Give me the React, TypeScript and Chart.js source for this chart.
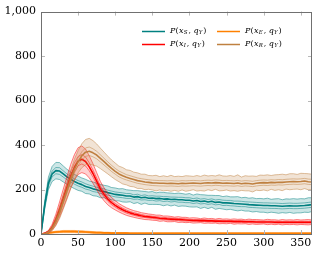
import { useEffect, useRef } from 'react';
import { Chart, registerables } from 'chart.js';

Chart.register(...registerables);

const days = [
  0, 5, 10, 15, 20, 25, 30, 35, 40, 45,
  50, 55, 60, 65, 70, 75, 80, 85, 90, 95,
  100, 105, 110, 115, 120, 125, 130, 135, 140, 145,
  150, 155, 160, 165, 170, 175, 180, 185, 190, 195,
  200, 205, 210, 215, 220, 225, 230, 235, 240, 245,
  250, 255, 260, 265, 270, 275, 280, 285, 290, 295,
  300, 305, 310, 315, 320, 325, 330, 335, 340, 345,
  350, 355, 360, 365,
];

const xTicks = [0, 50, 100, 150, 200, 250, 300, 350];
const yTicks = [0, 200, 400, 600, 800, 1000];

// S series
const sMean = [
  0, 130, 228, 270, 285, 283, 270, 257, 246, 236,
  228, 222, 214, 209, 203, 199, 193, 191, 186, 182,
  178, 176, 174, 171, 171, 166, 168, 163, 165, 161,
  162, 159, 160, 157, 158, 155, 156, 154, 154, 152,
  152, 148, 151, 146, 148, 144, 147, 142, 144, 140,
  140, 139, 137, 136, 135, 134, 132, 131, 130, 129,
  128, 128, 127, 127, 126, 125, 126, 127, 126, 126,
  127, 128, 130, 132,
];
const sOuter = [
  0, 18, 28, 34, 37, 38, 36, 34, 33, 32,
  32, 30, 32, 29, 31, 29, 30, 28, 30, 27,
  29, 27, 30, 28, 26, 29, 27, 30, 26, 28,
  29, 26, 28, 30, 27, 29, 26, 30, 28, 27,
  30, 27, 29, 31, 28, 30, 27, 31, 29, 28,
  31, 28, 30, 32, 28, 31, 29, 32, 29, 31,
  30, 33, 29, 31, 33, 29, 32, 30, 33, 31,
  32, 30, 33, 31,
];
const sInner = [
  0, 7, 11, 13, 14, 15, 14, 13, 13, 12,
  12, 12, 12, 11, 12, 11, 11, 12, 11, 11,
  11, 11, 11, 11, 11, 10, 11, 10, 11, 10,
  10, 11, 10, 11, 10, 11, 10, 11, 11, 11,
  11, 11, 11, 11, 11, 11, 11, 11, 11, 12,
  11, 12, 11, 12, 12, 11, 12, 12, 12, 12,
  12, 12, 12, 12, 12, 12, 12, 12, 12, 12,
  12, 12, 12, 12,
];

// E series
const eMean = [
  0, 2, 5, 7, 9, 10, 11, 11, 11, 11,
  10, 10, 9, 8, 7, 6, 6, 5, 5, 4,
  4, 4, 4, 4, 3, 3, 3, 3, 3, 3,
  3, 3, 3, 3, 3, 3, 3, 3, 3, 3,
  3, 3, 3, 3, 3, 3, 3, 3, 3, 3,
  3, 3, 3, 3, 3, 3, 3, 3, 3, 3,
  3, 3, 3, 3, 3, 3, 3, 3, 3, 3,
  3, 3, 3, 3,
];
const eOuter = [
  0, 1, 2, 3, 4, 4, 5, 5, 5, 5,
  5, 5, 4, 4, 4, 3, 3, 3, 3, 3,
  2, 2, 2, 2, 2, 2, 2, 2, 2, 2,
  2, 2, 2, 2, 2, 2, 2, 2, 2, 2,
  2, 2, 2, 2, 2, 2, 2, 2, 2, 2,
  2, 2, 2, 2, 2, 2, 2, 2, 2, 2,
  2, 2, 2, 2, 2, 2, 2, 2, 2, 2,
  2, 2, 2, 2,
];
const eInner = [
  0, 0.5, 1, 1.5, 2, 2, 2, 2, 2, 2,
  2, 2, 2, 2, 2, 1.5, 1.5, 1.5, 1, 1,
  1, 1, 1, 1, 1, 1, 1, 1, 1, 1,
  1, 1, 1, 1, 1, 1, 1, 1, 1, 1,
  1, 1, 1, 1, 1, 1, 1, 1, 1, 1,
  1, 1, 1, 1, 1, 1, 1, 1, 1, 1,
  1, 1, 1, 1, 1, 1, 1, 1, 1, 1,
  1, 1, 1, 1,
];

// I series
const iMean = [
  0, 3, 10, 30, 65, 110, 160, 210, 260, 300,
  328, 336, 326, 302, 272, 238, 203, 178, 157, 141,
  129, 118, 109, 101, 95, 90, 86, 82, 79, 77,
  75, 73, 71, 70, 68, 67, 66, 65, 64, 63,
  62, 61, 61, 60, 60, 59, 59, 58, 58, 57,
  57, 57, 56, 56, 56, 55, 55, 55, 54, 54,
  54, 54, 54, 53, 53, 53, 53, 53, 53, 53,
  53, 53, 53, 53,
];
const iOuter = [
  0, 2, 6, 14, 24, 34, 42, 48, 53, 57,
  60, 60, 56, 50, 44, 38, 33, 29, 26, 23,
  21, 19, 18, 17, 16, 15, 15, 14, 14, 13,
  13, 12, 14, 11, 13, 12, 10, 13, 11, 12,
  10, 12, 11, 9, 12, 10, 11, 9, 12, 10,
  11, 9, 12, 10, 11, 9, 12, 10, 11, 10,
  9, 12, 10, 11, 9, 12, 10, 11, 10, 12,
  10, 11, 12, 10,
];
const iInner = [
  0, 1, 2, 5, 9, 12, 15, 17, 19, 20,
  21, 21, 20, 18, 16, 14, 12, 11, 10, 9,
  8, 8, 7, 7, 6, 6, 6, 6, 5, 5,
  5, 5, 5, 5, 5, 5, 5, 5, 5, 5,
  4, 4, 4, 4, 4, 4, 4, 4, 4, 4,
  4, 4, 4, 4, 4, 4, 4, 4, 4, 4,
  4, 4, 4, 4, 4, 4, 4, 4, 4, 4,
  4, 4, 4, 4,
];

// R series
const rMean = [
  0, 1, 8, 25, 55, 95, 145, 195, 245, 290,
  325, 352, 368, 372, 365, 355, 340, 325, 310, 295,
  282, 270, 262, 255, 250, 245, 240, 237, 234, 232,
  230, 229, 228, 228, 227, 228, 227, 226, 228, 227,
  228, 229, 228, 227, 229, 230, 229, 231, 230, 228,
  229, 228, 227, 229, 226, 228, 227, 225, 228, 230,
  231, 230, 232, 231, 233, 232, 234, 235, 236, 235,
  236, 238, 235, 234,
];
const rOuter = [
  0, 1, 4, 10, 18, 26, 33, 38, 42, 46,
  50, 54, 57, 58, 55, 50, 46, 43, 40, 38,
  37, 35, 37, 34, 36, 33, 35, 32, 35, 31,
  32, 35, 30, 34, 31, 36, 31, 34, 30, 35,
  33, 30, 35, 32, 36, 31, 34, 30, 36, 33,
  31, 35, 32, 37, 30, 34, 33, 36, 31, 35,
  33, 36, 31, 35, 34, 37, 32, 36, 35, 33,
  37, 34, 36, 35,
];
const rInner = [
  0, 0, 2, 4, 7, 10, 12, 14, 15, 16,
  17, 18, 19, 19, 18, 17, 16, 15, 14, 14,
  13, 13, 13, 12, 12, 12, 12, 12, 12, 12,
  12, 12, 12, 12, 12, 12, 12, 12, 12, 12,
  12, 12, 12, 12, 12, 12, 12, 12, 12, 12,
  12, 12, 12, 12, 12, 12, 12, 12, 12, 12,
  12, 12, 12, 12, 12, 12, 12, 12, 12, 12,
  12, 12, 12, 12,
];

const seriesNames = ['S', 'E', 'I', 'R'];
const seriesColors = ['rgb(0,128,128)', 'rgb(255,128,0)', 'rgb(255,0,0)', 'rgb(191,128,64)'];
const seriesFills = ['rgba(0,128,128,0.2)', 'rgba(255,128,0,0.2)', 'rgba(255,0,0,0.18)', 'rgba(191,128,64,0.22)'];
const seriesMeans = [sMean, eMean, iMean, rMean];
const seriesOuters = [sOuter, eOuter, iOuter, rOuter];
const seriesInners = [sInner, eInner, iInner, rInner];

const SERIF = '"DejaVu Serif", serif';

function pts(vals: number[]) {
  return days.map((d, i) => ({ x: d, y: vals[i] }));
}

function drawLabel(ctx: CanvasRenderingContext2D, x: number, y: number, sub: string) {
  const parts: [string, string, number, number][] = [
    ['P', `italic 8px ${SERIF}`, 0, 0],
    ['(', `8px ${SERIF}`, 0, 0.5],
    ['x', `italic 8px ${SERIF}`, 0, 0.3],
    [sub, `italic 5.5px ${SERIF}`, 2, 0.8],
    [',', `8px ${SERIF}`, 0, 2.5],
    ['q', `italic 8px ${SERIF}`, 0, 0.3],
    ['Y', `italic 5.5px ${SERIF}`, 2, 0.8],
    [')', `8px ${SERIF}`, 0, 0],
  ];
  let cx = x;
  ctx.fillStyle = '#000';
  ctx.textBaseline = 'middle';
  ctx.textAlign = 'left';
  for (const [t, f, dy, gap] of parts) {
    ctx.font = f;
    ctx.fillText(t, cx, y + dy);
    cx += ctx.measureText(t).width + gap;
  }
}

const framePlugin = {
  id: 'frameLegend',
  afterDraw(chart: any) {
    const { ctx, chartArea, scales } = chart;
    const { left, right, top, bottom } = chartArea;
    const xs = scales.x;
    const ys = scales.y;
    ctx.save();
    ctx.strokeStyle = '#b8b8b8';
    ctx.lineWidth = 1;
    ctx.beginPath();
    for (const v of xTicks) {
      const px = Math.round(xs.getPixelForValue(v)) + 0.5;
      if (v === 0) continue;
      ctx.moveTo(px, bottom);
      ctx.lineTo(px, bottom - 4);
      ctx.moveTo(px, top);
      ctx.lineTo(px, top + 4);
    }
    for (const v of yTicks) {
      if (v === 0 || v === 1000) continue;
      const py = Math.round(ys.getPixelForValue(v)) + 0.5;
      ctx.moveTo(left, py);
      ctx.lineTo(left + 4, py);
      ctx.moveTo(right, py);
      ctx.lineTo(right - 4, py);
    }
    ctx.stroke();
    ctx.strokeStyle = '#707070';
    ctx.lineWidth = 1;
    ctx.strokeRect(Math.round(left) + 0.5, Math.round(top) + 0.5, Math.round(right - left) - 1, Math.round(bottom - top));

    // legend
    const cols = [142, 217];
    const rows = [31, 44];
    [0, 1, 2, 3].forEach((k, idx) => {
      const cx = cols[idx % 2];
      const cy = rows[Math.floor(idx / 2)];
      ctx.strokeStyle = seriesColors[k];
      ctx.lineWidth = 1.5;
      ctx.beginPath();
      ctx.moveTo(cx, cy + 0.5);
      ctx.lineTo(cx + 23, cy + 0.5);
      ctx.stroke();
      drawLabel(ctx, cx + 28, cy, seriesNames[k]);
    });
    ctx.restore();
  },
};

export default function App() {
  const ref = useRef<HTMLCanvasElement | null>(null);
  useEffect(() => {
    if (!ref.current) return;
    const datasets: any[] = [];
    seriesNames.forEach((_, k) => {
      const m = seriesMeans[k];
      const o = seriesOuters[k];
      const inn = seriesInners[k];
      const c = seriesColors[k];
      const base = { borderColor: c, pointRadius: 0, tension: 0, borderJoinStyle: 'round' };
      datasets.push({ ...base, data: pts(m.map((v, i) => v + o[i])), borderWidth: 0.5, fill: '+1', backgroundColor: seriesFills[k] });
      datasets.push({ ...base, data: pts(m.map((v, i) => Math.max(0, v - o[i]))), borderWidth: 0.5, fill: false });
      datasets.push({ ...base, data: pts(m.map((v, i) => v + inn[i])), borderWidth: 0.5, fill: false });
      datasets.push({ ...base, data: pts(m.map((v, i) => Math.max(0, v - inn[i]))), borderWidth: 0.5, fill: false });
      datasets.push({ ...base, data: pts(m), borderWidth: 1.6, fill: false });
    });
    datasets.forEach((d, i) => { d.order = datasets.length - i; });
    const chart = new Chart(ref.current, {
      type: 'line',
      data: { datasets },
      options: {
        responsive: false,
        animation: false,
        devicePixelRatio: 1,
        layout: { padding: { top: 11, right: 3, left: 0, bottom: 0 } },
        plugins: { legend: { display: false }, tooltip: { enabled: false } },
        scales: {
          x: {
            type: 'linear',
            min: 0,
            max: 365,
            border: { display: false },
            grid: { display: false, drawTicks: false },
            afterBuildTicks: (s: any) => { s.ticks = xTicks.map((v) => ({ value: v })); },
            afterFit: (s: any) => { s.height = 19; },
            ticks: { color: '#000', padding: 3, maxRotation: 0, autoSkip: false, font: { family: SERIF, size: 11 } },
          },
          y: {
            type: 'linear',
            min: 0,
            max: 1000,
            border: { display: false },
            grid: { display: false, drawTicks: false },
            afterBuildTicks: (s: any) => { s.ticks = yTicks.map((v) => ({ value: v })); },
            afterFit: (s: any) => { s.width = 41; },
            ticks: { color: '#000', padding: 5, font: { family: SERIF, size: 11 } },
          },
        },
      },
      plugins: [framePlugin],
    } as any);
    return () => chart.destroy();
  }, []);
  return (
    <div style={{ position: 'absolute', left: 0, top: 0, width: 315, height: 253 }}>
      <canvas ref={ref} width={315} height={253} />
    </div>
  );
}
